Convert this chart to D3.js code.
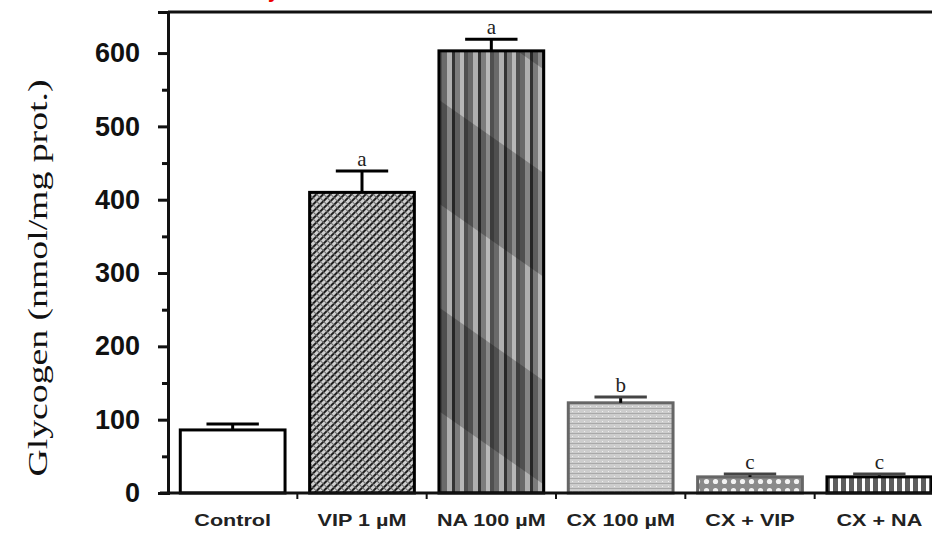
<!DOCTYPE html>
<html>
<head>
<meta charset="utf-8">
<script src="https://cdn.jsdelivr.net/npm/d3@7"></script>
<style>
    body { margin: 0; background: #fff; }
    svg { display: block; }
</style>
</head>
<body>
<div id="chart-area"></div>
<script>
const categories = ["Control", "VIP 1 µM", "NA 100 µM", "CX 100 µM", "CX + VIP", "CX + NA"];
const glycogen = [86, 410, 603, 123, 22, 22];
const errors = [8, 29, 16, 8, 4, 4];
const letters = ["", "a", "a", "b", "c", "c"];
const majorTicks = [0, 100, 200, 300, 400, 500, 600];
const minorTicks = [50, 150, 250, 350, 450, 550];

const width = 932;
const height = 535;
const plot = { left: 168, right: 944, top: 12, bottom: 493 };

const svg = d3.select("#chart-area")
    .append("svg")
    .attr("width", width)
    .attr("height", height);

const defs = svg.append("defs");

// diagonal hatch for VIP
const p1 = defs.append("pattern").attr("id", "p-vip")
    .attr("width", 5).attr("height", 5)
    .attr("patternUnits", "userSpaceOnUse")
    .attr("patternTransform", "rotate(45)");
p1.append("rect").attr("width", 5).attr("height", 5).attr("fill", "#cfcfcf");
p1.append("rect").attr("width", 2).attr("height", 5).attr("fill", "#1e1e1e");
p1.append("rect").attr("y", 3).attr("width", 5).attr("height", 1).attr("fill", "#6a6a6a");

// vertical stripes for NA
const p2 = defs.append("pattern").attr("id", "p-na")
    .attr("width", 26).attr("height", 40)
    .attr("patternUnits", "userSpaceOnUse");
const stripes = [[0, 5, "#6a6a6a"], [5, 5, "#b0b0b0"], [10, 3, "#333"], [13, 5, "#7c7c7c"], [18, 4, "#b8b8b8"], [22, 4, "#505050"]];
stripes.forEach((s) => {
    p2.append("rect").attr("x", s[0]).attr("width", s[1]).attr("height", 40).attr("fill", s[2]);
});
const p2b = defs.append("pattern").attr("id", "p-na-shade")
    .attr("width", 170).attr("height", 170)
    .attr("patternUnits", "userSpaceOnUse")
    .attr("patternTransform", "rotate(35)");
p2b.append("rect").attr("width", 170).attr("height", 85).attr("fill", "#000").attr("opacity", 0.25);

// light stipple for CX 100
const p3 = defs.append("pattern").attr("id", "p-cx")
    .attr("width", 6).attr("height", 5)
    .attr("patternUnits", "userSpaceOnUse");
p3.append("rect").attr("width", 6).attr("height", 5).attr("fill", "#cdcdcd");
p3.append("rect").attr("y", 3).attr("width", 6).attr("height", 1).attr("fill", "#a9a9a9");
p3.append("rect").attr("x", 2).attr("y", 1).attr("width", 1).attr("height", 1).attr("fill", "#f0f0f0");

// dots for CX + VIP
const p4 = defs.append("pattern").attr("id", "p-cxvip")
    .attr("width", 9).attr("height", 9)
    .attr("patternUnits", "userSpaceOnUse");
p4.append("rect").attr("width", 9).attr("height", 9).attr("fill", "#8a8a8a");
p4.append("circle").attr("cx", 4.5).attr("cy", 4.5).attr("r", 2.6).attr("fill", "#f2f2f2");

// comb for CX + NA
const p5 = defs.append("pattern").attr("id", "p-cxna")
    .attr("width", 8).attr("height", 8)
    .attr("patternUnits", "userSpaceOnUse");
p5.append("rect").attr("width", 8).attr("height", 8).attr("fill", "#fff");
p5.append("rect").attr("x", 1).attr("width", 5).attr("height", 8).attr("fill", "#5e5e5e");

const fills = ["#fff", "url(#p-vip)", "url(#p-na)", "url(#p-cx)", "url(#p-cxvip)", "url(#p-cxna)"];
const strokes = ["#000", "#000", "#000", "#666", "#666", "#000"];

const x = d3.scaleBand()
    .domain(categories)
    .range([plot.left, plot.right])
    .paddingInner(0.19)
    .paddingOuter(0.095);

const y = d3.scaleLinear()
    .domain([0, 656])
    .range([plot.bottom, plot.top]);

// partial red caption cut off at the top
svg.append("text")
    .attr("x", 268)
    .attr("y", -2)
    .attr("font-family", "Liberation Sans, Arial, sans-serif")
    .attr("font-size", "20px")
    .attr("font-weight", "bold")
    .style("fill", "#e00")
    .text("y");

// top frame line
svg.append("line")
    .attr("x1", plot.left).attr("x2", width)
    .attr("y1", plot.top).attr("y2", plot.top)
    .attr("stroke", "#111").attr("stroke-width", 3);

const data = categories.map((c, i) => ({ name: c, value: glycogen[i], err: errors[i], letter: letters[i], i: i }));

// bars
svg.selectAll("rect.bar")
    .data(data)
    .enter()
    .append("rect")
    .attr("class", "bar")
    .attr("x", (d) => x(d.name))
    .attr("y", (d) => y(d.value))
    .attr("width", x.bandwidth())
    .attr("height", (d) => y(0) - y(d.value))
    .attr("fill", (d) => fills[d.i])
    .attr("stroke", (d) => strokes[d.i])
    .attr("stroke-width", 3);

svg.append("rect")
    .attr("x", x(categories[2]))
    .attr("y", y(glycogen[2]))
    .attr("width", x.bandwidth())
    .attr("height", y(0) - y(glycogen[2]))
    .attr("fill", "url(#p-na-shade)");

// error bars
const err = svg.append("g").attr("class", "errors");
err.selectAll("line.v")
    .data(data)
    .enter()
    .append("line")
    .attr("x1", (d) => x(d.name) + x.bandwidth() / 2)
    .attr("x2", (d) => x(d.name) + x.bandwidth() / 2)
    .attr("y1", (d) => y(d.value))
    .attr("y2", (d) => y(d.value + d.err))
    .attr("stroke", "#000")
    .attr("stroke-width", 3);
err.selectAll("line.cap")
    .data(data)
    .enter()
    .append("line")
    .attr("x1", (d) => x(d.name) + x.bandwidth() * 0.25)
    .attr("x2", (d) => x(d.name) + x.bandwidth() * 0.75)
    .attr("y1", (d) => y(d.value + d.err))
    .attr("y2", (d) => y(d.value + d.err))
    .attr("stroke", (d) => d.i >= 3 ? "#444" : "#000")
    .attr("stroke-width", 3);

// significance letters
svg.selectAll("text.sig")
    .data(data)
    .enter()
    .append("text")
    .attr("class", "sig")
    .attr("x", (d) => x(d.name) + x.bandwidth() / 2)
    .attr("y", (d) => y(d.value + d.err) - 5)
    .attr("text-anchor", "middle")
    .attr("font-family", "Liberation Serif, Times New Roman, serif")
    .attr("font-size", "21px")
    .style("fill", "#222")
    .text((d) => d.letter);

// y axis
const leftAxis = d3.axisLeft(y)
    .tickValues(majorTicks)
    .tickSize(10)
    .tickPadding(18);
const yAxis = svg.append("g")
    .attr("class", "left axis")
    .attr("transform", "translate(" + plot.left + ", 0)")
    .call(leftAxis);
yAxis.select(".domain").attr("stroke", "#111").attr("stroke-width", 3);
yAxis.selectAll(".tick line").attr("stroke", "#111").attr("stroke-width", 3);
yAxis.selectAll("text")
    .attr("font-family", "Liberation Sans, Arial, sans-serif")
    .attr("font-size", "27px")
    .attr("font-weight", "bold")
    .style("fill", "#111");

const minorAxis = d3.axisLeft(y)
    .tickValues(minorTicks)
    .tickSize(6)
    .tickFormat("");
const yMinor = svg.append("g")
    .attr("transform", "translate(" + plot.left + ", 0)")
    .call(minorAxis);
yMinor.select(".domain").remove();
yMinor.selectAll(".tick line").attr("stroke", "#111").attr("stroke-width", 3);

// x axis baseline with ticks between groups
svg.append("line")
    .attr("x1", 160).attr("x2", width)
    .attr("y1", y(0)).attr("y2", y(0))
    .attr("stroke", "#111").attr("stroke-width", 3);
svg.selectAll("line.xtick")
    .data(categories.slice(1))
    .enter()
    .append("line")
    .attr("x1", (d) => x(d) - x.step() * x.paddingInner() / 2)
    .attr("x2", (d) => x(d) - x.step() * x.paddingInner() / 2)
    .attr("y1", y(0))
    .attr("y2", y(0) + 6)
    .attr("stroke", "#111").attr("stroke-width", 2);

const bottomAxis = d3.axisBottom(x).tickSize(0);
const xAxis = svg.append("g")
    .attr("class", "bottom axis")
    .attr("transform", "translate(0, " + y(0) + ")")
    .call(bottomAxis);
xAxis.select(".domain").remove();
xAxis.selectAll("text")
    .attr("y", 22)
    .attr("font-family", "Liberation Sans, Arial, sans-serif")
    .attr("font-size", "16px")
    .attr("font-weight", "bold")
    .attr("transform", "scale(1.35, 1)")
    .style("fill", "#222");

// y axis title
svg.append("text")
    .attr("class", "y axis-label")
    .attr("transform", "translate(47, 278) rotate(-90)")
    .attr("text-anchor", "middle")
    .attr("font-family", "Liberation Serif, Times New Roman, serif")
    .attr("font-size", "28px")
    .attr("textLength", 397)
    .attr("lengthAdjust", "spacingAndGlyphs")
    .style("fill", "#111")
    .text("Glycogen (nmol/mg prot.)");
</script>
</body>
</html>
